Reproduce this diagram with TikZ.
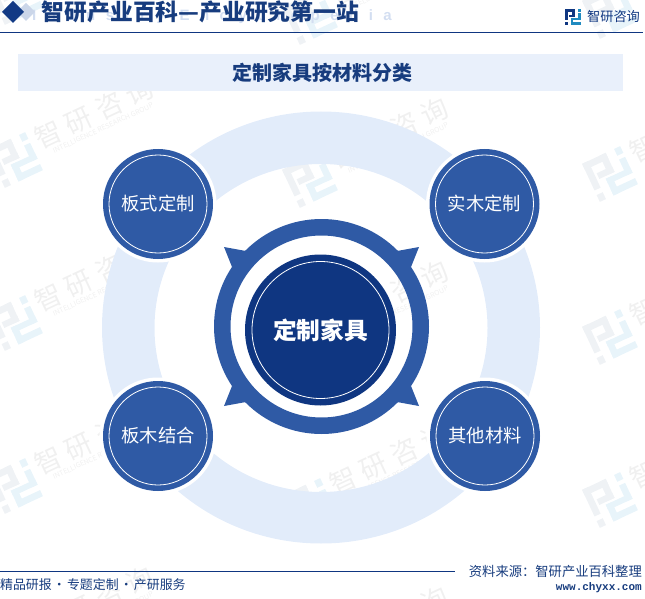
\documentclass[tikz,border=0pt]{standalone}
\usepackage{fontspec}
\setmainfont{Noto Sans CJK SC}
\newfontfamily\wmfont[LetterSpace=25]{Noto Sans CJK SC}
\newfontfamily\wordfont[LetterSpace=70]{Liberation Sans}
\newfontfamily\webfont{Liberation Mono}
\definecolor{navy}{HTML}{0F3681}
\definecolor{midblue}{HTML}{2F5AA5}
\definecolor{ringblue}{HTML}{E2ECFA}
\definecolor{bandblue}{HTML}{E9F0FB}
\definecolor{titleblue}{HTML}{173C7E}
\definecolor{wmgray}{HTML}{F0F0F0}
\definecolor{wmlogo}{HTML}{EFF2F5}
\definecolor{wmsky}{HTML}{E8F4FA}
\newcommand{\logomark}[2]{
	\fill[#1] (0,0) rectangle (6.2,1.6);
	\fill[#1] (4.6,0) rectangle (6.2,5);
	\fill[#1] (2.2,3.5) rectangle (6.2,5);
	\fill[#1] (0,0) rectangle (1.6,7);
	\fill[#1] (0,8.2) rectangle (1.6,10);
	\fill[#2] (8.4,0) rectangle (10,1.8);
	\fill[#2] (8.4,2.8) rectangle (10,7);
	\fill[#2] (3.6,5.6) rectangle (10,7);
	\fill[#2] (3.6,5.6) rectangle (5.2,10);
	\fill[#2] (3.6,8.4) rectangle (10,10);
}
\tikzset{
	disc/.style={circle, fill=midblue, text=white, minimum size=110pt, inner sep=0pt, font=\fontsize{18.3}{18.3}\selectfont},
	halo/.style={circle, fill=white, minimum size=117pt, inner sep=0pt},
	thinring/.style={circle, draw=white, line width=0.8pt, minimum size=98pt, inner sep=0pt},
}
\begin{document}
\begin{tikzpicture}[x=1pt, y=-1pt]
	\useasboundingbox (0,0) rectangle (645,599);
	% watermark grid
	\foreach \wx/\wdrop in {15/0, 310/20, 610/14}
		\foreach \wy in {-3, 160, 323, 486, 649} {
			\begin{scope}[shift={(\wx,\wy+\wdrop)}, rotate=25]
				\begin{scope}[scale=4.2, shift={(-5,-5)}]
					\logomark{wmlogo}{wmsky}
				\end{scope}
			\end{scope}
			\node[text=wmgray, rotate=25, font=\wmfont\fontsize{27}{27}\selectfont] (wmname-\wx-\wy) at (\wx+79,\wy+\wdrop-47) {智研咨询};
			\node[text=wmgray, rotate=25, font=\fontsize{7}{7}\selectfont] (wmsub-\wx-\wy) at (\wx+88,\wy+\wdrop-32) {INTELLIGENCE RESEARCH GROUP};
		}
	% header
	\node[text=bandblue!88!midblue, font=\wordfont\bfseries\fontsize{15}{15}\selectfont] (enword) at (212,17) {Industry Encyclopedia};
	\fill[midblue!25] (26,3) -- (35,12) -- (26,21) -- (17,12) -- cycle;
	\fill[navy!90!midblue] (13,1) -- (24,12) -- (13,23) -- (2,12) -- cycle;
	\node[text=titleblue, font=\fontsize{22.8}{22.8}\selectfont\bfseries, inner sep=0pt] (headline) at (200.5,12) {智研产业百科—产业研究第一站};
	\begin{scope}[shift={(565,9)}, scale=1.6]
		\logomark{navy}{midblue!70!cyan}
	\end{scope}
	\node[text=navy, font=\fontsize{13.2}{13.2}\selectfont, inner sep=0pt] (brand) at (613.5,17) {智研咨询};
	\draw[navy, line width=1pt] (0,33) -- (643,33);
	% band
	\fill[bandblue] (18,54) rectangle (623,91);
	\node[text=titleblue, font=\fontsize{20}{20}\selectfont\bfseries, inner sep=0pt] (bandtitle) at (322,73) {定制家具按材料分类};
	% big ring
	\fill[ringblue, even odd rule] (321,327.5) ellipse [x radius=219, y radius=216] (321,328) ellipse [x radius=166.5, y radius=164];
	% spiked ring
	\fill[midblue, even odd rule] (321.5,326.5) circle [radius=107.5] circle [radius=91];
	\foreach \sx/\sy in {1/1, -1/1, 1/-1, -1/-1}
		\fill[midblue] (321.5+97.5*\sx,326.5+79.5*\sy) -- (321.5+75.5*\sx,326.5+75.5*\sy) -- (321.5+68*\sx,326.5+68*\sy) -- (321.5+89.5*\sx,326.5+59.5*\sy) -- cycle;
	% centre
	\node[circle, fill=navy, text=white, minimum size=151pt, inner sep=0pt, font=\fontsize{23.7}{23.7}\selectfont\bfseries] (centre) at (320.5,330) {定制家具};
	\node[thinring, minimum size=137pt] (centrering) at (centre) {};
	% corner discs
	\foreach \px/\py/\dname/\dtext in {158/204/board/板式定制, 484.5/204/wood/实木定制, 158/436/mixed/板木结合, 485/436/other/其他材料} {
		\node[halo] (\dname halo) at (\px,\py) {};
		\node[disc] (\dname) at (\px,\py) {\dtext};
		\node[thinring] (\dname ring) at (\px,\py) {};
	}
	% footer
	\draw[navy, line width=1pt] (0,571) -- (455,571);
	\node[text=titleblue, font=\fontsize{13.3}{13.3}\selectfont, inner sep=0pt, anchor=east] (source) at (642,571) {资料来源：智研产业百科整理};
	\node[text=titleblue, font=\webfont\bfseries\fontsize{11}{11}\selectfont, inner sep=0pt, anchor=east] (website) at (642,588) {www.chyxx.com};
	\node[text=titleblue, font=\fontsize{12.9}{12.9}\selectfont, inner sep=0pt, anchor=west] (services) at (0,585) {\spaceskip 1.2pt 精品研报 · 专题定制 · 产研服务};
\end{tikzpicture}
\end{document}
